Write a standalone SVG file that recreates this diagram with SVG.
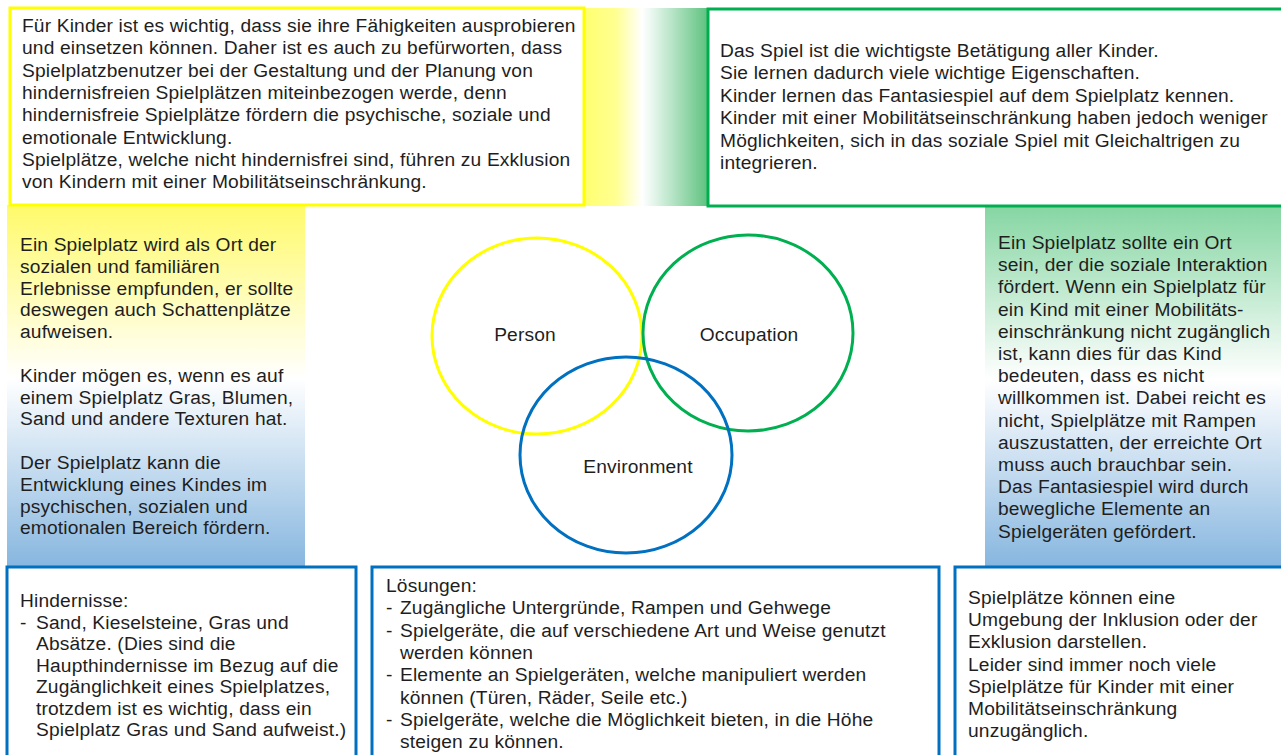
<svg xmlns="http://www.w3.org/2000/svg" width="1281" height="755" viewBox="0 0 1281 755">
<style>
.t{font-family:"Liberation Sans",Arial,sans-serif;font-size:19.2px;letter-spacing:0.15px;fill:#1e1e1e}
.yb{fill:#fff;stroke:#FFFF00;stroke-width:3}
.gb{fill:#fff;stroke:#00B050;stroke-width:3}
.bb{fill:#fff;stroke:#0070C0;stroke-width:3}
.c{fill:none;stroke-width:3}
</style>
<defs>
<linearGradient id="band" x1="0" y1="0" x2="1" y2="0">
<stop offset="0" stop-color="#FFFF70"/>
<stop offset="0.25" stop-color="#FFFF90"/>
<stop offset="0.47" stop-color="#FFFFFF"/>
<stop offset="0.55" stop-color="#E8F7EE"/>
<stop offset="1" stop-color="#5EC27E"/>
</linearGradient>
<linearGradient id="lcol" x1="0" y1="0" x2="0" y2="1">
<stop offset="0" stop-color="#FFFA6A"/>
<stop offset="0.48" stop-color="#FFFFFF"/>
<stop offset="1" stop-color="#86B6DF"/>
</linearGradient>
<linearGradient id="rcol" x1="0" y1="0" x2="0" y2="1">
<stop offset="0" stop-color="#86D6A3"/>
<stop offset="0.48" stop-color="#FFFFFF"/>
<stop offset="1" stop-color="#86B6DF"/>
</linearGradient>
</defs>
<rect width="1281" height="755" fill="#fff"/>
<rect x="584" y="8" width="124" height="198" fill="url(#band)"/>
<rect x="7" y="205" width="298" height="362" fill="url(#lcol)"/>
<rect x="985" y="207" width="296" height="360" fill="url(#rcol)"/>

<g id="box-top-left">
<rect class="yb" x="10" y="8" width="574" height="197"/>
<text class="t" x="22" y="32">Für Kinder ist es wichtig, dass sie ihre Fähigkeiten ausprobieren</text>
<text class="t" x="22" y="54.3">und einsetzen können. Daher ist es auch zu befürworten, dass</text>
<text class="t" x="22" y="76.6">Spielplatzbenutzer bei der Gestaltung und der Planung von</text>
<text class="t" x="22" y="98.9">hindernisfreien Spielplätzen miteinbezogen werde, denn</text>
<text class="t" x="22" y="121.2">hindernisfreie Spielplätze fördern die psychische, soziale und</text>
<text class="t" x="22" y="143.5">emotionale Entwicklung.</text>
<text class="t" x="22" y="165.8">Spielplätze, welche nicht hindernisfrei sind, führen zu Exklusion</text>
<text class="t" x="22" y="188.1">von Kindern mit einer Mobilitätseinschränkung.</text>
</g>

<g id="box-top-right">
<rect class="gb" x="708" y="9" width="580" height="197"/>
<text class="t" x="720" y="57">Das Spiel ist die wichtigste Betätigung aller Kinder.</text>
<text class="t" x="720" y="79.4">Sie lernen dadurch viele wichtige Eigenschaften.</text>
<text class="t" x="720" y="101.8">Kinder lernen das Fantasiespiel auf dem Spielplatz kennen.</text>
<text class="t" x="720" y="124.2">Kinder mit einer Mobilitätseinschränkung haben jedoch weniger</text>
<text class="t" x="720" y="146.6">Möglichkeiten, sich in das soziale Spiel mit Gleichaltrigen zu</text>
<text class="t" x="720" y="169">integrieren.</text>
</g>

<g id="box-left">
<text class="t" x="20" y="251">Ein Spielplatz wird als Ort der</text>
<text class="t" x="20" y="272.8">sozialen und familiären</text>
<text class="t" x="20" y="294.6">Erlebnisse empfunden, er sollte</text>
<text class="t" x="20" y="316.4">deswegen auch Schattenplätze</text>
<text class="t" x="20" y="338.2">aufweisen.</text>
<text class="t" x="20" y="381.8">Kinder mögen es, wenn es auf</text>
<text class="t" x="20" y="403.6">einem Spielplatz Gras, Blumen,</text>
<text class="t" x="20" y="425.4">Sand und andere Texturen hat.</text>
<text class="t" x="20" y="469">Der Spielplatz kann die</text>
<text class="t" x="20" y="490.8">Entwicklung eines Kindes im</text>
<text class="t" x="20" y="512.6">psychischen, sozialen und</text>
<text class="t" x="20" y="534.4">emotionalen Bereich fördern.</text>
</g>

<g id="box-right">
<text class="t" x="998" y="249">Ein Spielplatz sollte ein Ort</text>
<text class="t" x="998" y="271.2">sein, der die soziale Interaktion</text>
<text class="t" x="998" y="293.4">fördert. Wenn ein Spielplatz für</text>
<text class="t" x="998" y="315.6">ein Kind mit einer Mobilitäts-</text>
<text class="t" x="998" y="337.8">einschränkung nicht zugänglich</text>
<text class="t" x="998" y="360">ist, kann dies für das Kind</text>
<text class="t" x="998" y="382.2">bedeuten, dass es nicht</text>
<text class="t" x="998" y="404.4">willkommen ist. Dabei reicht es</text>
<text class="t" x="998" y="426.6">nicht, Spielplätze mit Rampen</text>
<text class="t" x="998" y="448.8">auszustatten, der erreichte Ort</text>
<text class="t" x="998" y="471">muss auch brauchbar sein.</text>
<text class="t" x="998" y="493.2">Das Fantasiespiel wird durch</text>
<text class="t" x="998" y="515.4">bewegliche Elemente an</text>
<text class="t" x="998" y="537.6">Spielgeräten gefördert.</text>
</g>

<g id="circle-person">
<ellipse class="c" cx="537" cy="336" rx="105" ry="98" stroke="#FFFF00"/>
<text class="t" x="525" y="341" text-anchor="middle">Person</text>
</g>
<g id="circle-occupation">
<ellipse class="c" cx="748" cy="333" rx="105" ry="98" stroke="#00B050"/>
<text class="t" x="749" y="341" text-anchor="middle">Occupation</text>
</g>
<g id="circle-environment">
<ellipse class="c" cx="626" cy="455" rx="106" ry="98" stroke="#0070C0"/>
<text class="t" x="638" y="473" text-anchor="middle">Environment</text>
</g>
<g id="connectors"></g>

<g id="box-bottom-left">
<rect class="bb" x="7" y="567" width="349" height="200"/>
<text class="t" x="20" y="607">Hindernisse:</text>
<text class="t" x="20" y="628.5">-</text>
<text class="t" x="36" y="628.5">Sand, Kieselsteine, Gras und</text>
<text class="t" x="36" y="650">Absätze. (Dies sind die</text>
<text class="t" x="36" y="671.5">Haupthindernisse im Bezug auf die</text>
<text class="t" x="36" y="693">Zugänglichkeit eines Spielplatzes,</text>
<text class="t" x="36" y="714.5">trotzdem ist es wichtig, dass ein</text>
<text class="t" x="36" y="736">Spielplatz Gras und Sand aufweist.)</text>
</g>

<g id="box-bottom-middle">
<rect class="bb" x="372" y="567" width="567" height="200"/>
<text class="t" x="386" y="592">Lösungen:</text>
<text class="t" x="386" y="614.3">-</text>
<text class="t" x="400" y="614.3">Zugängliche Untergründe, Rampen und Gehwege</text>
<text class="t" x="386" y="636.6">-</text>
<text class="t" x="400" y="636.6">Spielgeräte, die auf verschiedene Art und Weise genutzt</text>
<text class="t" x="400" y="658.9">werden können</text>
<text class="t" x="386" y="681.2">-</text>
<text class="t" x="400" y="681.2">Elemente an Spielgeräten, welche manipuliert werden</text>
<text class="t" x="400" y="703.5">können (Türen, Räder, Seile etc.)</text>
<text class="t" x="386" y="725.8">-</text>
<text class="t" x="400" y="725.8">Spielgeräte, welche die Möglichkeit bieten, in die Höhe</text>
<text class="t" x="400" y="748.1">steigen zu können.</text>
</g>

<g id="box-bottom-right">
<rect class="bb" x="955" y="567" width="340" height="200"/>
<text class="t" x="968" y="604">Spielplätze können eine</text>
<text class="t" x="968" y="626.2">Umgebung der Inklusion oder der</text>
<text class="t" x="968" y="648.4">Exklusion darstellen.</text>
<text class="t" x="968" y="670.6">Leider sind immer noch viele</text>
<text class="t" x="968" y="692.8">Spielplätze für Kinder mit einer</text>
<text class="t" x="968" y="715">Mobilitätseinschränkung</text>
<text class="t" x="968" y="737.2">unzugänglich.</text>
</g>
</svg>
